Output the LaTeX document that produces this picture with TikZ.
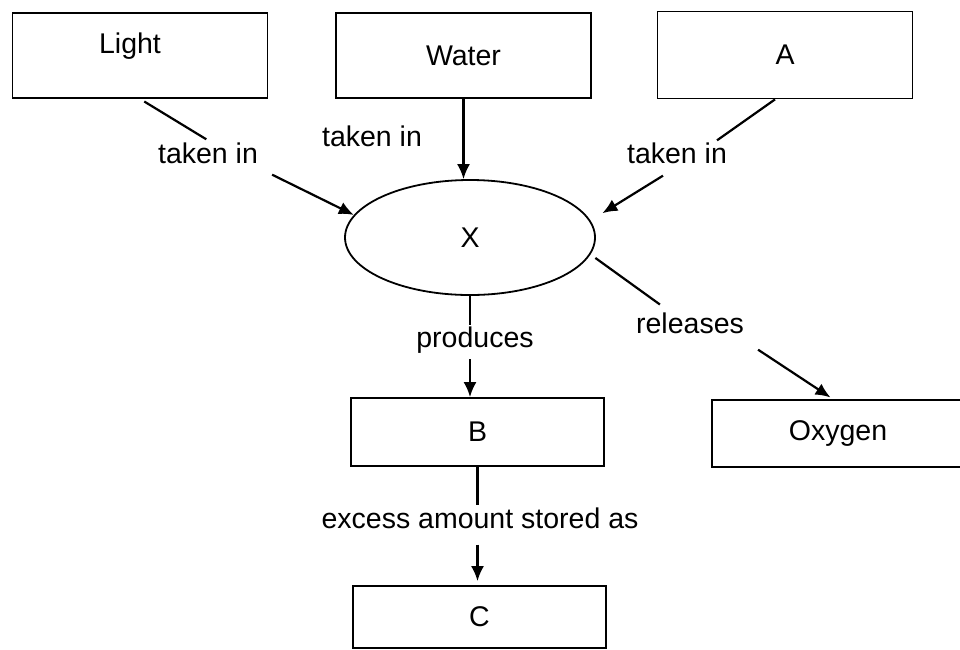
\documentclass[tikz,border=0pt]{standalone}
\usepackage{fontspec}
\setmainfont{Liberation Sans}
\usetikzlibrary{shapes.geometric,arrows.meta}
\begin{document}
\begin{tikzpicture}[x=1pt,y=-1pt,font=\fontsize{28.5}{34}\selectfont]

\tikzset{mybox/.style={rectangle,draw,line width=1.8pt,minimum width=255pt,minimum height=85pt,inner sep=0pt},}
\tikzset{myoval/.style={ellipse,draw,line width=1.8pt,minimum width=250pt,minimum height=115pt,inner sep=0pt},}
\tikzset{myword/.style={inner sep=2pt},}
\tikzset{myline/.style={line width=2.2pt},}
\tikzset{myarrow/.style={-{Latex[length=15pt,width=13pt]},line width=2.2pt},}

\useasboundingbox (0,0) rectangle (960,649);

%TOP ROW
\draw (140,55.5) node [mybox] (light) {};
\draw (130,46) node [myword] (lighttext) {Light};
\draw (463.5,55.5) node [mybox] (water) {Water};
\draw (785,55) node [mybox,minimum height=87pt] (abox) {A};

%CENTRE
\draw (470,237.5) node [myoval] (x) {X};
\draw (477.5,432) node [mybox,minimum width=253pt,minimum height=68pt] (b) {B};
\draw (838,433.5) node [mybox,minimum width=252pt,minimum height=67pt] (oxygen) {Oxygen};
\draw (479.5,617) node [mybox,minimum width=253pt,minimum height=62pt] (c) {C};

%LABELS
\draw (208,153) node [myword] (tk1) {taken in};
\draw (372,136) node [myword] (tk2) {taken in};
\draw (677,153) node [myword] (tk3) {taken in};
\draw (690,323) node [myword] (rel) {releases};
\draw (475,340) node [myword] (prod) {produces};
\draw (480,518) node [myword] (exc) {excess amount stored as};

%TAKEN IN
\draw[myline,shorten <=5pt,shorten >=2pt] (light.south) -- (tk1.north);
\draw[myarrow] ([xshift=12pt,yshift=-9pt]tk1.south east) -- (x.169);
\draw[myarrow] (water.south) -- (water.south |- x.north);
\draw[myline] ([xshift=-10pt]abox.south) -- ([xshift=40pt]tk3.north);
\draw[myarrow,shorten >=14pt] ([xshift=-14pt,yshift=-10pt]tk3.south) -- (x.8);

%RELEASES
\draw[myline,shorten <=6pt,shorten >=10pt] (x.-8) -- ([xshift=-22pt]rel.north);
\draw[myarrow,shorten >=3pt] ([xshift=12pt,yshift=-14pt]rel.south east) -- ([xshift=-5pt]oxygen.north);

%PRODUCES
\draw[myline] (x.south) -- (x.south |- prod.north);
\draw[myarrow,shorten <=4pt] (x.south |- prod.south) -- (x.south |- b.north);

%STORED
\draw[myline] (b.south) -- (b.south |- exc.north);
\draw[myarrow,shorten <=14pt,shorten >=4pt] (b.south |- exc.south) -- (b.south |- c.north);

\end{tikzpicture}
\end{document}
